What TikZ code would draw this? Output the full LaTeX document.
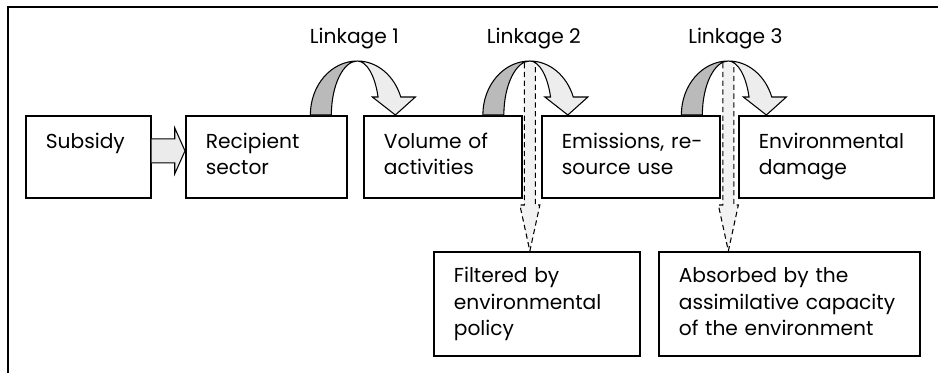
\documentclass[tikz,border=0pt]{standalone}
\usepackage{fontspec}
\setmainfont{Poppins}
\usetikzlibrary{calc}
\tikzset{
  box/.style={draw,line width=1pt,anchor=north west,align=left,
            inner xsep=0.4cm,inner ysep=0pt,text height=0.66cm,text depth=0.98cm,
            font=\fontsize{11.5}{14.5}\selectfont},
  lowbox/.style={box,text height=0.62cm,text depth=1.46cm,
            font=\fontsize{11.5}{15}\selectfont},
  darkband/.style={draw,line width=0.6pt,fill=black!27},
  lightband/.style={draw,line width=0.6pt,fill=black!7},
  filterarrow/.style={draw,line width=0.6pt,dash pattern=on 3pt off 2pt,fill=black!5},
  blockarrow/.style={draw,line width=0.6pt,fill=black!8},
  linklabel/.style={anchor=base,font=\fontsize{11.5}{14}\selectfont},
}
% curved arrow over the gap whose top centre is #1
\newcommand{\linkarrow}[1]{
  \path[darkband] ($(#1)+(-47,0)$) .. controls ($(#1)+(-47,-30)$) and ($(#1)+(-26,-54)$)
        .. ($(#1)+(0,-54)$) .. controls ($(#1)+(-14,-54)$) and ($(#1)+(-26,-30)$)
        .. ($(#1)+(-26,0)$) -- cycle;
  \path[lightband] ($(#1)+(0,-54)$) .. controls ($(#1)+(19.5,-54)$) and ($(#1)+(36.9,-39.6)$)
        .. ($(#1)+(43.4,-18)$) -- ($(#1)+(58,-18)$) -- ($(#1)+(38,0)$)
        -- ($(#1)+(15,-18)$) -- ($(#1)+(20.7,-18)$)
        .. controls ($(#1)+(17.6,-39.6)$) and ($(#1)+(9.3,-54)$) .. ($(#1)+(0,-54)$) -- cycle;
}
% dashed arrow from the top of the curve down to #2
\newcommand{\filterdown}[2]{
  \path[filterarrow] ($(#1)+(-5.5,-52)$) -- ($(#1)+(-5.5,90)$) -- ($(#1)+(-10,90)$)
        -- (#1 |- #2.north) -- ($(#1)+(10,90)$) -- ($(#1)+(5.5,90)$) -- ($(#1)+(5.5,-52)$);
}

\begin{document}
\begin{tikzpicture}[x=0.02cm,y=-0.02cm]
  \useasboundingbox (0,0) rectangle (938,373);
  \draw[line width=1pt] (8,373) -- (8,7) -- (938,7);

  \node[box,text width=1.7cm]  (sub) at (25,115)  {Subsidy};
  \node[box,text width=2.42cm] (rec) at (185,115) {Recipient\\sector};
  \node[box,text width=2.36cm] (vol) at (363,115) {\mbox{Volume of}\\activities};
  \node[box,text width=2.76cm] (emi) at (541,115) {\mbox{Emissions, re-}\\\mbox{source use}};
  \node[box,text width=3.1cm]  (dam) at (738,115) {Environmental\\damage};
  \node[lowbox,text width=3.32cm] (fil) at (433,251) {\mbox{Filtered by}\\environmental\\policy};
  \node[lowbox,text width=4.42cm] (ass) at (658,251)
        {\mbox{Absorbed by the}\\\mbox{assimilative capacity}\\\mbox{of the environment}};

  \coordinate (k1) at ($(rec.north east)!0.5!(vol.north west)+(2,0)$);
  \coordinate (k2) at ($(vol.north east)!0.5!(emi.north west)+(-2,0)$);
  \coordinate (k3) at ($(emi.north east)!0.5!(dam.north west)+(-1,0)$);

  \path[blockarrow] ($(sub.east)+(0,-18)$) -- ($(sub.east)+(23,-18)$) -- ($(sub.east)+(23,-29)$)
        -- ($(rec.west)+(0,-6)$) -- ($(sub.east)+(23,17)$) -- ($(sub.east)+(23,6)$)
        -- ($(sub.east)+(0,6)$);

  \linkarrow{k1}
  \linkarrow{k2}
  \linkarrow{k3}
  \filterdown{k2}{fil}
  \filterdown{k3}{ass}

  \node[linklabel] (lab1) at ($(k1)+(-3,-72)$) {Linkage 1};
  \node[linklabel] (lab2) at ($(k2)+(4,-72)$)  {Linkage 2};
  \node[linklabel] (lab3) at ($(k3)+(7,-72)$)  {Linkage 3};
\end{tikzpicture}
\end{document}
